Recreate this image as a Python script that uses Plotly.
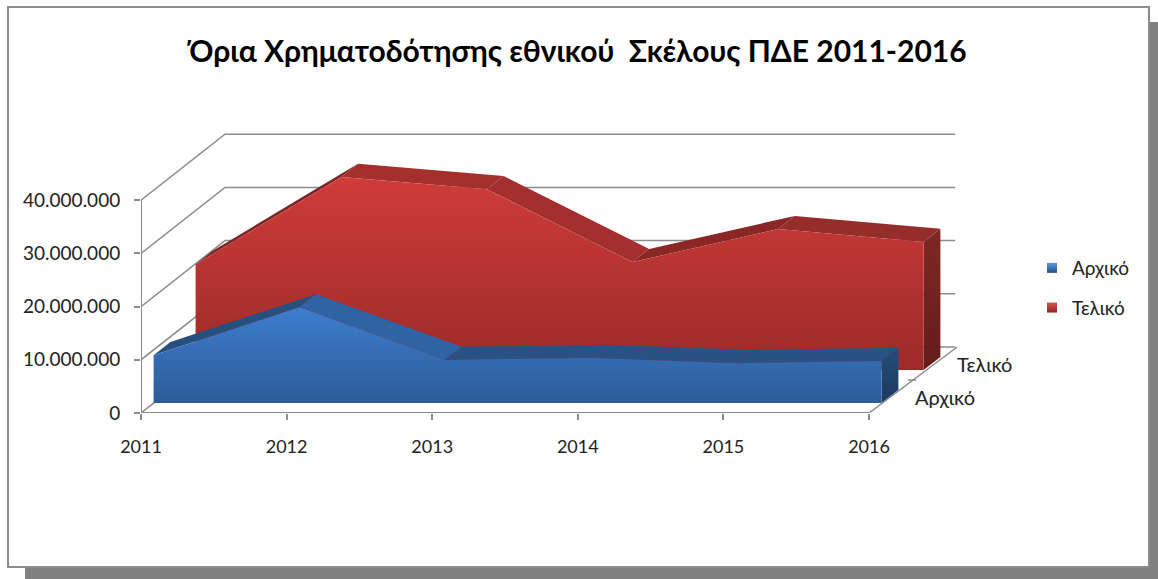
"""Oblique 3D-style area chart of the national PDE funding limits."""

import plotly.graph_objects as go

YEARS = [2011, 2012, 2013, 2014, 2015, 2016]
INITIAL = [9000000, 18000000, 8100000, 8500000, 7500000, 7900000]
FINAL = [19900000, 36300000, 34000000, 20300000, 26500000, 24100000]
VALUE_TICKS = [0, 10000000, 20000000, 30000000, 40000000]
VALUE_LABELS = ["0", "10.000.000", "20.000.000", "30.000.000", "40.000.000"]
DEPTH_LABELS = ["Αρχικό", "Τελικό"]

TITLE = "Όρια Χρηματοδότησης εθνικού  Σκέλους ΠΔΕ 2011-2016"
FONT = "Lato, Open Sans"
GREY = "#8c8c8c"

WIDTH, HEIGHT = 1158, 579
PLOT_L, PLOT_R, PLOT_T, PLOT_B = 141, 960, 133, 413

# oblique projection: how far one full unit of depth moves a point, in axis units
DEPTH_X = 84 / 145.6
DEPTH_Y = 66 / 53.2 * 10000000
X_RANGE = [2011, 2011 + (PLOT_R - PLOT_L) / 145.6]
Y_RANGE = [0, (PLOT_B - PLOT_T) / 53.2 * 10000000]

BLUE = {
    "near": 0.15,
    "far": 0.35,
    "front": ["#2c5c98", "#3e7dce"],
    "side": ["#1c3a5f", "#244c7a"],
    "ridge": ["#28507f", "#3063a3", "#2a5184", "#2a5184", "#2a5184"],
}
RED = {
    "near": 0.65,
    "far": 0.85,
    "front": ["#9b2b29", "#cf3c39"],
    "side": ["#641c1b", "#7f2824"],
    "ridge": ["#7a2523", "#a3302d", "#a3302e", "#8a2623", "#952d2a"],
}


def project(years, values, depth):
    xs = [year + depth * DEPTH_X for year in years]
    ys = [value + depth * DEPTH_Y for value in values]
    return xs, ys


def add_line(fig, xs, ys, width=1.5):
    fig.add_trace(
        go.Scatter(
            x=xs,
            y=ys,
            mode="lines",
            line={"color": GREY, "width": width},
            showlegend=False,
            hoverinfo="skip",
            cliponaxis=False,
        )
    )


def add_face(fig, xs, ys, color=None, gradient=None):
    style = {"fillcolor": color} if color else {
        "fillgradient": {
            "type": "vertical",
            "colorscale": [[0, gradient[0]], [1, gradient[1]]],
        }
    }
    fig.add_trace(
        go.Scatter(
            x=xs,
            y=ys,
            mode="lines",
            fill="toself",
            line={"width": 0},
            showlegend=False,
            hoverinfo="skip",
            cliponaxis=False,
            **style,
        )
    )


def add_series(fig, values, style):
    near, far = style["near"], style["far"]
    near_x, near_y = project(YEARS, values, near)
    far_x, far_y = project(YEARS, values, far)

    for i, shade in enumerate(style["ridge"]):
        add_face(
            fig,
            [near_x[i], near_x[i + 1], far_x[i + 1], far_x[i]],
            [near_y[i], near_y[i + 1], far_y[i + 1], far_y[i]],
            color=shade,
        )

    base_near_x, base_near_y = project(YEARS, [0] * len(YEARS), near)
    base_far_x, base_far_y = project(YEARS, [0] * len(YEARS), far)
    add_face(
        fig,
        [base_near_x[-1], near_x[-1], far_x[-1], base_far_x[-1]],
        [base_near_y[-1], near_y[-1], far_y[-1], base_far_y[-1]],
        gradient=style["side"],
    )
    add_face(
        fig,
        near_x + base_near_x[::-1],
        near_y + base_near_y[::-1],
        gradient=style["front"],
    )


def paper_rect(left, top, right, bottom, **kwargs):
    return {
        "type": "rect",
        "xref": "paper",
        "yref": "paper",
        "x0": (left - PLOT_L) / (PLOT_R - PLOT_L),
        "x1": (right - PLOT_L) / (PLOT_R - PLOT_L),
        "y0": (PLOT_B - bottom) / (PLOT_B - PLOT_T),
        "y1": (PLOT_B - top) / (PLOT_B - PLOT_T),
        "layer": "below",
        **kwargs,
    }


fig = go.Figure()

# side wall and back wall gridlines
for tick in VALUE_TICKS:
    back_x, back_y = project([YEARS[0], YEARS[-1]], [tick, tick], 1)
    add_line(fig, [YEARS[0], back_x[0], back_x[1] + 0.015], [tick, back_y[0], back_y[1]])

add_series(fig, FINAL, RED)
add_series(fig, INITIAL, BLUE)

# front axis lines and the floor's right edge, with its depth tick
add_line(fig, [YEARS[0], YEARS[0]], [VALUE_TICKS[0], VALUE_TICKS[-1]], 2)
add_line(fig, [YEARS[0], YEARS[-1]], [0, 0], 2)
add_line(
    fig,
    [YEARS[-1], YEARS[-1] + DEPTH_X * 1.05],
    [0, DEPTH_Y * 1.0],
)
mid_x, mid_y = project([YEARS[-1]], [0], 0.5)
add_line(fig, [mid_x[0] - 0.02, mid_x[0] + 0.035], [mid_y[0], mid_y[0]])

# legend entries
fig.add_trace(
    go.Scatter(
        x=[None],
        y=[None],
        mode="markers",
        name=DEPTH_LABELS[0],
        legendgroup="a",
        marker={
            "symbol": "square",
            "size": 10,
            "color": "#5b9be6",
            "gradient": {"type": "vertical", "color": "#255086"},
        },
    )
)
fig.add_trace(
    go.Scatter(
        x=[None],
        y=[None],
        mode="markers",
        name=DEPTH_LABELS[1],
        legendgroup="b",
        marker={
            "symbol": "square",
            "size": 10,
            "color": "#d9534f",
            "gradient": {"type": "vertical", "color": "#8f2825"},
        },
    )
)

for label, depth in zip(DEPTH_LABELS, [0.25, 0.75]):
    label_x, label_y = project([YEARS[-1]], [0], depth)
    fig.add_annotation(
        x=label_x[0],
        y=label_y[0],
        text=label,
        showarrow=False,
        xanchor="left",
        yanchor="middle",
        xshift=23,
        font={"size": 20, "color": "#222222", "family": FONT},
    )

fig.update_layout(
    width=WIDTH,
    height=HEIGHT,
    paper_bgcolor="white",
    plot_bgcolor="rgba(0,0,0,0)",
    margin={"l": PLOT_L, "r": WIDTH - PLOT_R, "t": PLOT_T, "b": HEIGHT - PLOT_B, "pad": 0},
    font={"family": FONT, "color": "#222222", "size": 18},
    title={
        "text": TITLE,
        "x": 578 / WIDTH,
        "xanchor": "center",
        "y": 1 - 51 / HEIGHT,
        "yanchor": "middle",
        "font": {"size": 30, "color": "#000000", "family": FONT, "weight": "bold"},
    },
    legend={
        "x": (1032 - PLOT_L) / (PLOT_R - PLOT_L),
        "y": (PLOT_B - 249) / (PLOT_B - PLOT_T),
        "xanchor": "left",
        "yanchor": "top",
        "tracegroupgap": 12,
        "font": {"size": 19, "color": "#222222"},
        "bgcolor": "rgba(0,0,0,0)",
    },
    shapes=[
        paper_rect(25, 568, WIDTH, HEIGHT, fillcolor="#808080", line_width=0),
        paper_rect(1149, 22, WIDTH, HEIGHT, fillcolor="#808080", line_width=0),
        paper_rect(8, 7, 1149, 567, fillcolor="white", line={"color": GREY, "width": 2}),
    ],
)
fig.update_xaxes(
    range=X_RANGE,
    tickvals=YEARS,
    ticktext=[str(year) for year in YEARS],
    ticks="outside",
    ticklen=6,
    tickwidth=2,
    tickcolor=GREY,
    ticklabelstandoff=11,
    showgrid=False,
    zeroline=False,
    showline=False,
    fixedrange=True,
)
fig.update_yaxes(
    range=Y_RANGE,
    tickvals=VALUE_TICKS,
    ticktext=VALUE_LABELS,
    ticks="outside",
    ticklen=6,
    tickwidth=2,
    tickcolor=GREY,
    tickfont={"size": 19},
    ticklabelstandoff=10,
    showgrid=False,
    zeroline=False,
    showline=False,
    fixedrange=True,
)

# the page's default body margin would push the whole chart 8px off
fig.write_html(
    "out.html",
    config={"displayModeBar": False},
    post_script="document.body.style.margin = '0'; document.body.style.overflow = 'hidden';",
)
